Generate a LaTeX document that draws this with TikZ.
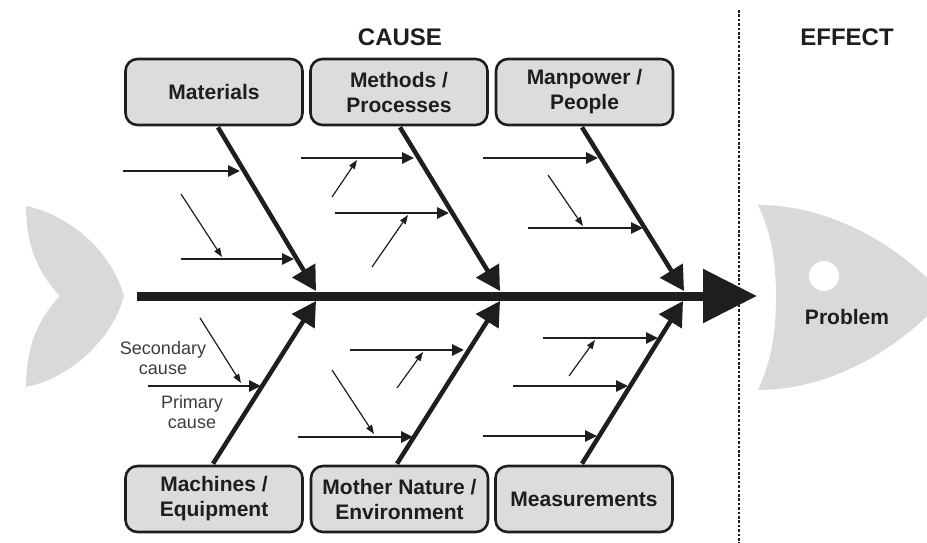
\documentclass[tikz,border=0pt]{standalone}
\usepackage{fontspec}
\setmainfont{Liberation Sans}
\usetikzlibrary{arrows.meta}
\definecolor{ink}{HTML}{1E1E1E}
\definecolor{boxfill}{HTML}{DCDCDC}
\definecolor{fishgray}{HTML}{D9D9D9}
\definecolor{labelgray}{HTML}{3C3C3C}
\begin{document}
\begin{tikzpicture}[x=1pt,y=-1pt,
  catbox/.style={draw=ink, line width=2.6pt, fill=boxfill, rounded corners=12pt,
    minimum width=177pt, minimum height=66pt, align=center, text=ink,
    font=\fontsize{21}{25}\selectfont\bfseries, inner sep=0pt},
  bone/.style={draw=ink, line width=4.5pt, -{Triangle[length=24pt,width=26pt]}},
  primary/.style={draw=ink, line width=2.8pt, -{Triangle[length=12pt,width=11pt]}},
  secondary/.style={draw=ink, line width=1.2pt, -{Triangle[length=9pt,width=6.5pt]}},
  heading/.style={font=\fontsize{24}{28}\selectfont\bfseries, text=ink},
  note/.style={font=\fontsize{18}{20.5}\selectfont, text=labelgray, align=center}]
\useasboundingbox (0,0) rectangle (927,543);
\begin{scope}
\clip (0,0) rectangle (927,543);
% fish tail
\fill[fishgray] (26,206) .. controls (70,215) and (112,252) .. (124,296)
  .. controls (112,340) and (70,378) .. (26,387)
  .. controls (26,352) and (35,322) .. (60,296)
  .. controls (35,270) and (26,240) .. cycle;
% fish head
\fill[fishgray] (758,205) .. controls (835,205) and (905,250) .. (945,297)
  .. controls (905,344) and (835,390) .. (758,390)
  .. controls (772,360) and (776,330) .. (776,297)
  .. controls (776,264) and (772,234) .. cycle;
\end{scope}
\fill[white] (824,276) circle (15);
\node[font=\fontsize{21}{25}\selectfont\bfseries, text=ink] (problem) at (847,317) {Problem};

% headings
\node[heading] (cause) at (400,37) {CAUSE};
\node[heading] (effect) at (847,37) {EFFECT};

% dotted separator
\coordinate (sepT) at (739,10);
\coordinate (sepB) at (739,543);
\draw[ink, line width=2.8pt, dash pattern=on 2.6pt off 1.8pt] (sepT) -- (sepB);

% spine
\coordinate (spineL) at (137,296);
\coordinate (spineR) at (757,296);
\draw[ink, line width=9pt, -{Triangle[length=54pt,width=52pt]}] (spineL) -- (spineR);

% category boxes
\node[catbox] (mat) at (214,92) {Materials};
\node[catbox] (meth) at (399,92) {Methods /\\Processes};
\node[catbox] (man) at (584.5,92) {Manpower /\\People};
\node[catbox] (mach) at (214,499) {Machines /\\Equipment};
\node[catbox] (moth) at (399.5,499) {Mother Nature /\\Environment};
\node[catbox] (meas) at (584,499) {Measurements};

% bone tips on spine
\coordinate (t1) at (316,291);
\coordinate (t2) at (500,291);
\coordinate (t3) at (684,291);
\coordinate (b1) at (316,301);
\coordinate (b2) at (500,301);
\coordinate (b3) at (683,301);

\draw[bone] ([xshift=4pt,yshift=-1pt]mat.south) -- (t1);
\draw[bone] ([xshift=1pt,yshift=-1pt]meth.south) -- (t2);
\draw[bone] ([xshift=-2.5pt,yshift=-1pt]man.south) -- (t3);
\draw[bone] ([xshift=-1pt,yshift=1pt]mach.north) -- (b1);
\draw[bone] ([xshift=-2.5pt,yshift=1pt]moth.north) -- (b2);
\draw[bone] ([xshift=-2pt,yshift=1pt]meas.north) -- (b3);

% Materials causes
\coordinate (m1s) at (123,171); \coordinate (m1e) at (240,171);
\coordinate (m2s) at (181,259); \coordinate (m2e) at (294,259);
\coordinate (m3s) at (181,194); \coordinate (m3e) at (222,257);
\draw[primary] (m1s) -- (m1e);
\draw[primary] (m2s) -- (m2e);
\draw[secondary] (m3s) -- (m3e);

% Methods causes
\coordinate (p1s) at (301,158); \coordinate (p1e) at (414,158);
\coordinate (p2s) at (332,197); \coordinate (p2e) at (357,160);
\coordinate (p3s) at (335,213); \coordinate (p3e) at (449,213);
\coordinate (p4s) at (372,267); \coordinate (p4e) at (408,215);
\draw[primary] (p1s) -- (p1e);
\draw[secondary] (p2s) -- (p2e);
\draw[primary] (p3s) -- (p3e);
\draw[secondary] (p4s) -- (p4e);

% Manpower causes
\coordinate (w1s) at (483,158); \coordinate (w1e) at (598,158);
\coordinate (w2s) at (548,175); \coordinate (w2e) at (583,226);
\coordinate (w3s) at (528,228); \coordinate (w3e) at (643,228);
\draw[primary] (w1s) -- (w1e);
\draw[secondary] (w2s) -- (w2e);
\draw[primary] (w3s) -- (w3e);

% Machines causes
\coordinate (c1s) at (148,386); \coordinate (c1e) at (261,386);
\coordinate (c2s) at (200,318); \coordinate (c2e) at (241,383);
\draw[primary] (c1s) -- (c1e);
\draw[secondary] (c2s) -- (c2e);
\node[note] (seclbl) at (163,358) {Secondary\\cause};
\node[note] (prilbl) at (192,412) {Primary\\cause};

% Mother Nature causes
\coordinate (n1s) at (350,350); \coordinate (n1e) at (464,350);
\coordinate (n2s) at (397,388); \coordinate (n2e) at (423,352);
\coordinate (n3s) at (298,437); \coordinate (n3e) at (413,437);
\coordinate (n4s) at (332,370); \coordinate (n4e) at (374,434);
\draw[primary] (n1s) -- (n1e);
\draw[secondary] (n2s) -- (n2e);
\draw[primary] (n3s) -- (n3e);
\draw[secondary] (n4s) -- (n4e);

% Measurements causes
\coordinate (r1s) at (543,338); \coordinate (r1e) at (658,338);
\coordinate (r2s) at (569,376); \coordinate (r2e) at (595,340);
\coordinate (r3s) at (513,386); \coordinate (r3e) at (628,386);
\coordinate (r4s) at (483,436); \coordinate (r4e) at (597,436);
\draw[primary] (r1s) -- (r1e);
\draw[secondary] (r2s) -- (r2e);
\draw[primary] (r3s) -- (r3e);
\draw[primary] (r4s) -- (r4e);
\end{tikzpicture}
\end{document}
